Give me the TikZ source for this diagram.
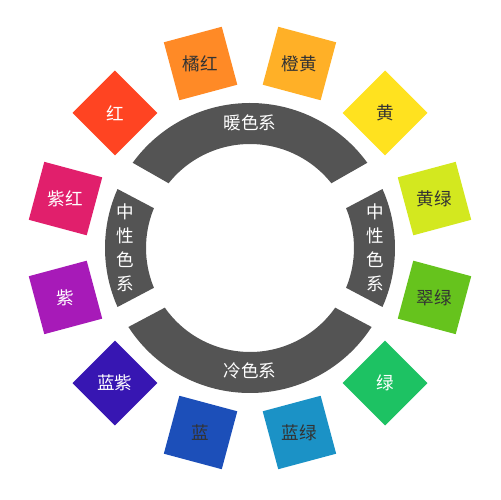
\documentclass[tikz,border=0pt]{standalone}
\usepackage{fontspec}
\setmainfont{Noto Sans CJK SC}
\usepackage{xcolor}
\usepackage{tikz}

\definecolor{cHong}{HTML}{FF4422}
\definecolor{cJuhong}{HTML}{FF8A26}
\definecolor{cChenghuang}{HTML}{FFB027}
\definecolor{cHuang}{HTML}{FFE21F}
\definecolor{cHuanglv}{HTML}{D3E81F}
\definecolor{cCuilv}{HTML}{66C31D}
\definecolor{cLv}{HTML}{1DC263}
\definecolor{cLanlv}{HTML}{1B92C6}
\definecolor{cLan}{HTML}{1C4FB9}
\definecolor{cLanzi}{HTML}{3716B2}
\definecolor{cZi}{HTML}{A71AB8}
\definecolor{cZihong}{HTML}{E11F6C}
\definecolor{arcgray}{HTML}{545454}
\definecolor{darktxt}{HTML}{333333}

\begin{document}
\begin{tikzpicture}[
    x=0.02cm, y=0.02cm,
    swatch/.style={rectangle, minimum size=1.2cm, inner sep=0pt},
    lbl/.style={font=\fontsize{10}{12}\selectfont, inner sep=0pt},
    band/.style={fill=arcgray},
    bandtext/.style={font=\fontsize{10}{13.6}\selectfont, text=white,
                align=center, inner sep=0pt}
]
\useasboundingbox (-250,-252) rectangle (250,248);

% === COLOUR SWATCHES ===
\foreach \ang/\col/\txt/\tc [count=\i] in {
    135/cHong/红/white, 105/cJuhong/橘红/darktxt, 75/cChenghuang/橙黄/darktxt,
    45/cHuang/黄/darktxt, 15/cHuanglv/黄绿/darktxt, -15/cCuilv/翠绿/darktxt,
    -45/cLv/绿/white, -75/cLanlv/蓝绿/darktxt, -105/cLan/蓝/darktxt,
    -135/cLanzi/蓝紫/white, -165/cZi/紫/white, 165/cZihong/紫红/white}
{
    \node[swatch, fill=\col, rotate=\ang] (sq\i) at (\ang:191) {};
    \node[lbl, text=\tc] (tx\i) at (sq\i.center) {\txt};
}

% === BANDS ===
\fill[band] (36:145) arc[start angle=36, end angle=144, radius=145]
    -- (141.5:104) arc[start angle=141.5, end angle=38.5, radius=104] -- cycle;
\fill[band] (156:145) arc[start angle=156, end angle=204, radius=145]
    -- (202.5:104) arc[start angle=202.5, end angle=157.5, radius=104] -- cycle;
\fill[band] (213:145) arc[start angle=213, end angle=327, radius=145]
    -- (325:104) arc[start angle=325, end angle=215, radius=104] -- cycle;
\fill[band] (-24:145) arc[start angle=-24, end angle=24, radius=145]
    -- (22.5:104) arc[start angle=22.5, end angle=-22.5, radius=104] -- cycle;

\node[bandtext] (warm) at (90:125) {暖色系};
\node[bandtext] (cool) at (-90:123) {冷色系};
\node[bandtext] (neutL) at (180:125) {中\\性\\色\\系};
\node[bandtext] (neutR) at (0:125) {中\\性\\色\\系};

\end{tikzpicture}
\end{document}
